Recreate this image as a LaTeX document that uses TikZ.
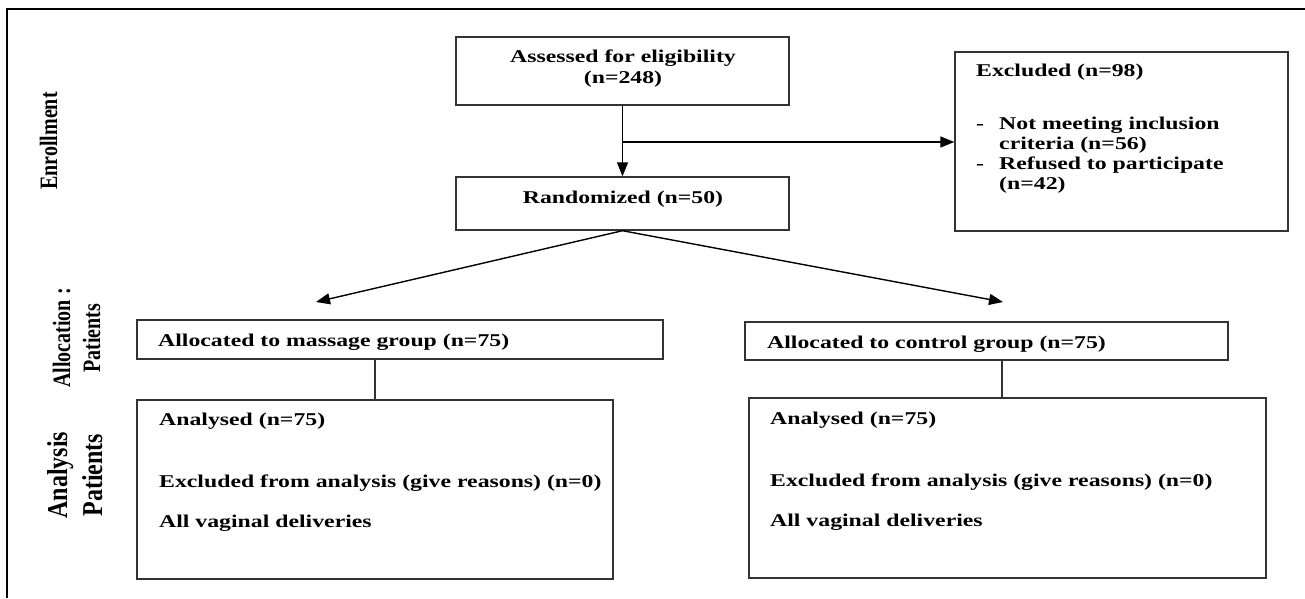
\documentclass[tikz,border=0pt]{standalone}
\usepackage{graphicx}
\usepackage{fontspec}
\setmainfont{Liberation Serif}
\newfontfamily\wfont{Liberation Serif}[FakeStretch=1.32]
\usetikzlibrary{arrows.meta}
\begin{document}
\begin{tikzpicture}[x=1pt,y=-1pt,
  box/.style={draw=black!80, line width=1.4pt, inner sep=0pt},
  txt/.style={font=\wfont\bfseries\fontsize{18}{20}\selectfont, inner sep=0pt},
  lbl/.style={font=\bfseries\fontsize{20}{24}\selectfont, inner sep=0pt, rotate=90, anchor=base},
  biglbl/.style={font=\bfseries\fontsize{24}{28}\selectfont, inner sep=0pt, rotate=90, anchor=base},
  arr/.style={line width=1.4pt, -{Triangle[length=14pt,width=11pt]}},
  conn/.style={line width=1.3pt, draw=black!80}]
\useasboundingbox (0,0) rectangle (1305,598);
\fill[white] (0,0) rectangle (1305,598);
% frame
\draw[line width=1.6pt] (7,598) -- (7,9) -- (1305,9);

% boxes
\node[box, minimum width=333pt, minimum height=68pt] (assess) at (622.5,71) {};
\node[box, minimum width=333pt, minimum height=53pt] (rand) at (622.5,203.5) {};
\node[box, minimum width=333pt, minimum height=179pt] (excl) at (1121.5,141.5) {};
\node[box, minimum width=526pt, minimum height=39pt] (mass) at (400,339.5) {};
\node[box, minimum width=483pt, minimum height=38pt] (ctrl) at (986.5,341) {};
\node[box, minimum width=476pt, minimum height=179pt] (anl) at (375,489.5) {};
\node[box, minimum width=517pt, minimum height=180pt] (anr) at (1007.5,488) {};

% texts
\node[txt, anchor=base] (ta1) at (623,62) {Assessed for eligibility};
\node[txt, anchor=base] (ta2) at (623,83) {(n=248)};
\node[txt, anchor=base] (tr1) at (623,203) {Randomized (n=50)};
\node[txt, anchor=base west] (te0) at (976,76) {Excluded (n=98)};
\node[txt, anchor=base west] (te1) at (976,129) {-};
\node[txt, anchor=base west] (te2) at (999,129) {Not meeting inclusion};
\node[txt, anchor=base west] (te3) at (999,149) {criteria (n=56)};
\node[txt, anchor=base west] (te4) at (976,169) {-};
\node[txt, anchor=base west] (te5) at (999,169) {Refused to participate};
\node[txt, anchor=base west] (te6) at (999,189) {(n=42)};
\node[txt, anchor=base west] (tm) at (158,346) {Allocated to massage group (n=75)};
\node[txt, anchor=base west] (tc) at (767,348) {Allocated to control group (n=75)};
\node[txt, anchor=base west] (tl1) at (159,425) {Analysed (n=75)};
\node[txt, anchor=base west] (tl2) at (159,487) {Excluded from analysis (give reasons) (n=0)};
\node[txt, anchor=base west] (tl3) at (159,527) {All vaginal deliveries};
\node[txt, anchor=base west] (tq1) at (770,424) {Analysed (n=75)};
\node[txt, anchor=base west] (tq2) at (770,486) {Excluded from analysis (give reasons) (n=0)};
\node[txt, anchor=base west] (tq3) at (770,526) {All vaginal deliveries};

% side labels
\node[lbl] (l1) at (57,141) {\scalebox{1}[1.25]{Enrollment}};
\node[lbl] (l2) at (70,338) {\scalebox{1}[1.25]{Allocation :}};
\node[lbl] (l3) at (100,338) {\scalebox{1}[1.25]{Patients}};
\node[biglbl] (l4) at (67,475) {\scalebox{1}[1.2]{Analysis}};
\node[biglbl] (l5) at (102,475) {\scalebox{1}[1.2]{Patients}};

% connectors
\coordinate (br) at (623,142);
\coordinate (tipl) at (316,302);
\coordinate (tipr) at (1003,302);
\coordinate (cr) at (1002,0);
\draw[arr] (assess.south) -- (rand.north);
\draw[arr] (br) -- (br -| excl.west);
\draw[arr] (rand.south) -- (tipl);
\draw[arr] (rand.south) -- (tipr);
\draw[conn] (anl.north) -- (anl.north |- mass.south);
\draw[conn] (anr.north -| cr) -- (ctrl.south -| cr);
\end{tikzpicture}
\end{document}
